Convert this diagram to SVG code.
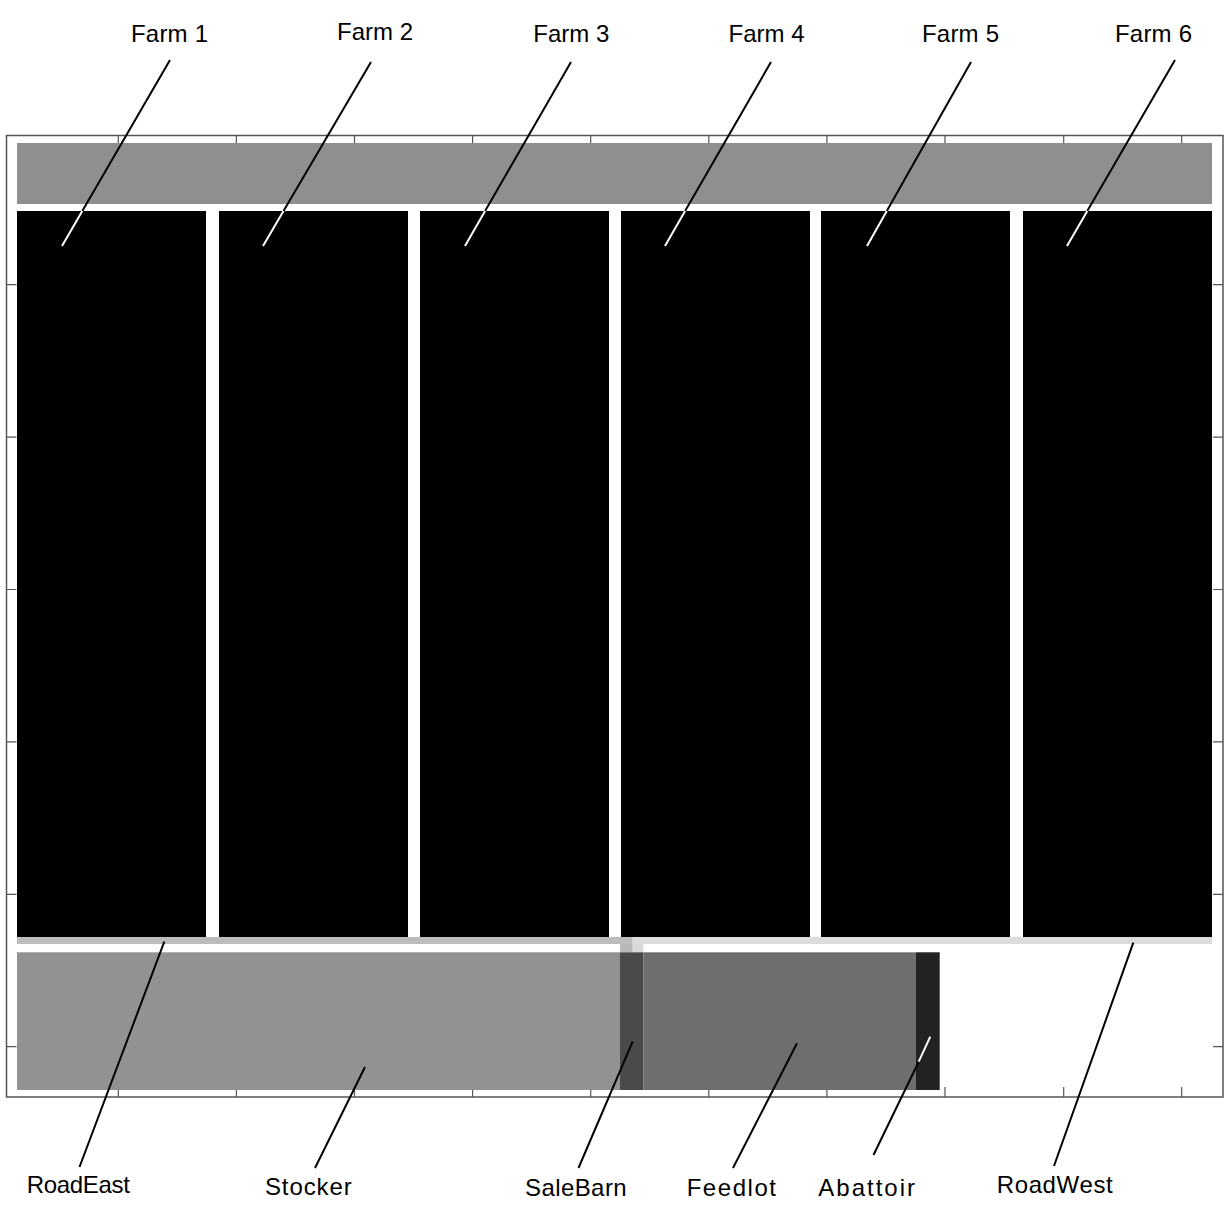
<svg xmlns="http://www.w3.org/2000/svg" width="1226" height="1230" viewBox="0 0 1226 1230">
<style>
.lbl{font-family:"Liberation Sans",Arial,sans-serif;font-size:24px;fill:#000;text-anchor:middle}
.farm{fill:#000}
.tick{stroke:#555;stroke-width:1.2;fill:none}
.lead{stroke:#000;stroke-width:2;fill:none}
.leadw{stroke:#fff;stroke-width:2;fill:none}
</style>
<rect width="1226" height="1230" fill="#fff"/>
<g id="frame">
<rect x="6.5" y="135.5" width="1216.5" height="961.5" fill="#fff" stroke="#555" stroke-width="1.5"/>
<path class="tick" d="M118.3 1097v-10M236.4 1097v-10M354.5 1097v-10M472.6 1097v-10M590.7 1097v-10M708.8 1097v-10M826.9 1097v-10M945 1097v-10M1063.7 1097v-10M1181.7 1097v-10"/>
<path class="tick" d="M118.3 135.5v10M236.4 135.5v10M354.5 135.5v10M472.6 135.5v10M590.7 135.5v10M708.8 135.5v10M826.9 135.5v10M945 135.5v10M1063.7 135.5v10M1181.7 135.5v10"/>
<path class="tick" d="M6.5 284.7h10M6.5 437.1h10M6.5 589.5h10M6.5 741.9h10M6.5 894.3h10M6.5 1046.7h10"/>
<path class="tick" d="M1223 284.7h-10M1223 437.1h-10M1223 589.5h-10M1223 741.9h-10M1223 894.3h-10M1223 1046.7h-10"/>
</g>
<g id="topbar"><rect x="17" y="143" width="1195" height="61" fill="#8f8f8f"/></g>
<g id="farm1"><rect class="farm" x="17" y="211" width="189" height="726"/></g>
<g id="farm2"><rect class="farm" x="219" y="211" width="189" height="726"/></g>
<g id="farm3"><rect class="farm" x="420" y="211" width="189" height="726"/></g>
<g id="farm4"><rect class="farm" x="621" y="211" width="189" height="726"/></g>
<g id="farm5"><rect class="farm" x="821" y="211" width="189" height="726"/></g>
<g id="farm6"><rect class="farm" x="1023" y="211" width="189" height="726"/></g>
<g id="roadeast"><rect x="17" y="937" width="615.7" height="7" fill="#bcbcbc"/><rect x="620" y="944" width="12.7" height="8.3" fill="#b8b8b8"/></g>
<g id="roadwest"><rect x="632.7" y="937" width="579.3" height="7" fill="#dcdcdc"/><rect x="632.7" y="944" width="10.6" height="8.3" fill="#d9d9d9"/></g>
<g id="stocker"><rect x="17" y="952.3" width="603" height="137.7" fill="#929292"/></g>
<g id="salebarn"><rect x="620" y="952.3" width="23.3" height="137.7" fill="#4a4a4a"/></g>
<g id="feedlot"><rect x="643.3" y="952.3" width="272.7" height="137.7" fill="#6e6e6e"/></g>
<g id="abattoir"><rect x="916" y="952.3" width="23.7" height="137.7" fill="#222"/></g>
<g id="connectors">
<path class="lead" d="M170 60L82.3 211M371 62L283.5 211M571 62L485.1 211M771 62L685.1 211M971 62L886.8 211M1175 60L1087.3 211"/>
<path class="leadw" d="M82.3 211L62 246M283.5 211L263 246M485.1 211L465 246M685.1 211L665 246M886.8 211L867 246M1087.3 211L1067 246"/>
<path class="lead" d="M164.3 941.7L79.5 1167M365 1067L315 1168M632.7 1041.3L578.5 1168M797 1043.3L733 1168M918.7 1061.7L873.5 1155M1133.3 942.7L1054 1166"/>
<path class="leadw" d="M930.3 1036.7L918.7 1061.7"/>
</g>
<g id="labels">
<text class="lbl" x="169.5" y="42" textLength="77">Farm 1</text>
<text class="lbl" x="375" y="40" textLength="76">Farm 2</text>
<text class="lbl" x="571.3" y="42" textLength="76">Farm 3</text>
<text class="lbl" x="766.5" y="42" textLength="76">Farm 4</text>
<text class="lbl" x="960.5" y="42" textLength="77">Farm 5</text>
<text class="lbl" x="1153.5" y="42" textLength="77">Farm 6</text>
<text class="lbl" x="78.3" y="1193.3" textLength="103">RoadEast</text>
<text class="lbl" x="308.3" y="1195" textLength="86.7">Stocker</text>
<text class="lbl" x="575.8" y="1196" textLength="101.7">SaleBarn</text>
<text class="lbl" x="731.3" y="1196" textLength="89.3">Feedlot</text>
<text class="lbl" x="866.7" y="1196" textLength="96.7">Abattoir</text>
<text class="lbl" x="1054.7" y="1193.3" textLength="116">RoadWest</text>
</g>
</svg>
